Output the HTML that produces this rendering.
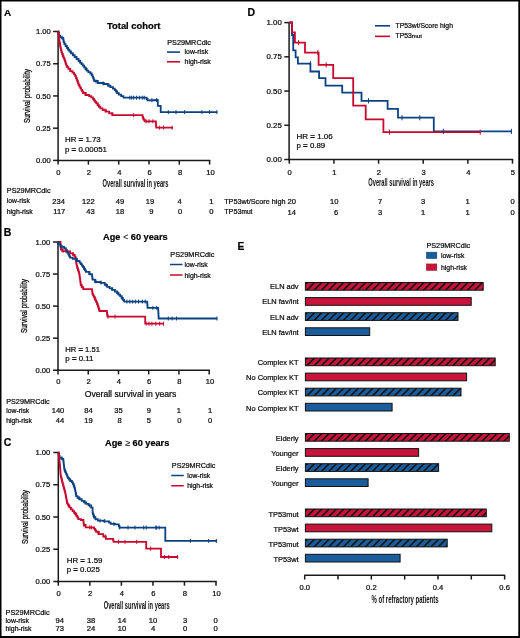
<!DOCTYPE html>
<html><head><meta charset="utf-8"><title>Figure</title>
<style>html,body{margin:0;padding:0;background:#fff;width:520px;height:638px;overflow:hidden} text{font-family:"Liberation Sans", sans-serif}</style>
</head><body>
<div style="width:520px;height:638px">
<svg width="520" height="638" viewBox="0 0 520 638" style="display:block">
<g font-family='"Liberation Sans", sans-serif'>
<line x1="58.1" y1="31.3" x2="58.1" y2="161.15" stroke="#1a1a1a" stroke-width="1.5"/>
<line x1="57.35" y1="160.4" x2="210.35" y2="160.4" stroke="#1a1a1a" stroke-width="1.5"/>
<line x1="53.1" y1="31.5" x2="58.1" y2="31.5" stroke="#1a1a1a" stroke-width="1.5"/>
<line x1="53.1" y1="63.73" x2="58.1" y2="63.73" stroke="#1a1a1a" stroke-width="1.5"/>
<line x1="53.1" y1="95.95" x2="58.1" y2="95.95" stroke="#1a1a1a" stroke-width="1.5"/>
<line x1="53.1" y1="128.18" x2="58.1" y2="128.18" stroke="#1a1a1a" stroke-width="1.5"/>
<line x1="53.1" y1="160.4" x2="58.1" y2="160.4" stroke="#1a1a1a" stroke-width="1.5"/>
<line x1="58.1" y1="160.4" x2="58.1" y2="164.6" stroke="#1a1a1a" stroke-width="1.5"/>
<line x1="88.4" y1="160.4" x2="88.4" y2="164.6" stroke="#1a1a1a" stroke-width="1.5"/>
<line x1="118.7" y1="160.4" x2="118.7" y2="164.6" stroke="#1a1a1a" stroke-width="1.5"/>
<line x1="149" y1="160.4" x2="149" y2="164.6" stroke="#1a1a1a" stroke-width="1.5"/>
<line x1="179.3" y1="160.4" x2="179.3" y2="164.6" stroke="#1a1a1a" stroke-width="1.5"/>
<line x1="209.6" y1="160.4" x2="209.6" y2="164.6" stroke="#1a1a1a" stroke-width="1.5"/>
<line x1="167" y1="52.1" x2="180" y2="52.1" stroke="#0b4283" stroke-width="1.6"/>
<line x1="167" y1="61.8" x2="180" y2="61.8" stroke="#c8082c" stroke-width="1.6"/>
<polyline points="58.35,31.5 58.54,31.5 58.54,32.93 58.92,32.93 58.92,34.37 59.31,34.37 59.31,35.8 59.5,35.8 60.1,35.8 60.1,37.4 60.7,37.4 61.9,37.4 61.9,37.8 63.1,37.8 63.22,37.8 63.22,39.23 63.45,39.23 63.45,40.67 63.68,40.67 63.68,42.1 63.8,42.1 64.4,42.1 64.4,44.05 65.6,44.05 65.6,46 66.2,46 66.85,46 66.85,47.83 68.15,47.83 68.15,49.67 69.45,49.67 69.45,51.5 70.1,51.5 71.02,51.5 71.02,53.33 72.85,53.33 72.85,55.17 74.68,55.17 74.68,57 75.6,57 76.57,57 76.57,59 78.53,59 78.53,61 79.5,61 80.17,61 80.17,62.53 81.5,62.53 81.5,64.07 82.83,64.07 82.83,65.6 83.5,65.6 84.15,65.6 84.15,67.3 85.45,67.3 85.45,69 86.75,69 86.75,70.7 87.4,70.7 88.38,70.7 88.38,72.1 90.33,72.1 90.33,73.5 91.3,73.5 91.7,73.5 91.7,75.05 92.5,75.05 92.5,76.6 92.9,76.6 93.17,76.6 93.17,78.07 93.7,78.07 93.7,79.53 94.23,79.53 94.23,81 94.5,81 97.75,81 97.75,83 101,83 103.8,83 103.8,84 106.6,84 107.87,84 107.87,85.53 110.4,85.53 110.4,87.07 112.93,87.07 112.93,88.6 114.2,88.6 114.78,88.6 114.78,90.1 115.95,90.1 115.95,91.6 117.12,91.6 117.12,93.1 117.7,93.1 118.85,93.1 118.85,94.63 121.15,94.63 121.15,96.17 123.45,96.17 123.45,97.7 124.6,97.7 146.2,97.7 146.65,97.7 146.65,99 147.55,99 147.55,100.3 148,100.3 157.8,100 157.8,105.8 160.7,105.8 160.7,112.1 217.3,112.1" fill="none" stroke="#0b4283" stroke-width="1.8" stroke-linejoin="miter"/>
<polyline points="58.35,31.5 58.43,31.5 58.43,33 58.58,33 58.58,34.5 58.73,34.5 58.73,36 58.88,36 58.88,37.5 59.02,37.5 59.02,39 59.1,39 59.23,39 59.23,40.57 59.5,40.57 59.5,42.13 59.77,42.13 59.77,43.7 59.9,43.7 60.03,43.7 60.03,45.27 60.3,45.27 60.3,46.83 60.57,46.83 60.57,48.4 60.7,48.4 60.97,48.4 60.97,50.23 61.5,50.23 61.5,52.07 62.03,52.07 62.03,53.9 62.3,53.9 62.68,53.9 62.68,55.73 63.45,55.73 63.45,57.57 64.22,57.57 64.22,59.4 64.6,59.4 64.85,59.4 64.85,60.95 65.35,60.95 65.35,62.5 65.85,62.5 65.85,64.05 66.35,64.05 66.35,65.6 66.6,65.6 67.17,65.6 67.17,67.2 68.33,67.2 68.33,68.8 68.9,68.8 70.3,68.8 70.3,71.1 71.7,71.1 72.47,71.1 72.47,72.7 74.03,72.7 74.03,74.3 74.8,74.3 75.2,74.3 75.2,76.15 76,76.15 76,78 76.4,78 76.73,78 76.73,79.75 77.38,79.75 77.38,81.5 78.03,81.5 78.03,83.25 78.67,83.25 78.67,85 79,85 79.45,85 79.45,86.6 80.35,86.6 80.35,88.2 81.25,88.2 81.25,89.8 82.15,89.8 82.15,91.4 83.05,91.4 83.05,93 83.5,93 85.75,93 85.75,95 88,95 89.08,95 89.08,96.2 91.22,96.2 91.22,97.4 92.3,97.4 92.85,97.4 92.85,98.87 93.95,98.87 93.95,100.33 95.05,100.33 95.05,101.8 95.6,101.8 96.27,101.8 96.27,103.45 97.62,103.45 97.62,105.1 98.97,105.1 98.97,106.75 100.33,106.75 100.33,108.4 101,108.4 102.65,108.4 102.65,110.05 105.95,110.05 105.95,111.7 107.6,111.7 109.25,111.7 109.25,113.45 112.55,113.45 112.55,115.2 114.2,115.2 142.3,115.2 142.55,115.2 142.55,116.85 143.05,116.85 143.05,118.5 143.3,118.5 143.78,118.5 143.78,119.9 144.72,119.9 144.72,121.3 145.2,121.3 155.8,121.3 155.86,121.3 155.86,122.9 155.99,122.9 155.99,124.5 156.11,124.5 156.11,126.1 156.24,126.1 156.24,127.7 156.3,127.7 173,127.7" fill="none" stroke="#c8082c" stroke-width="1.8" stroke-linejoin="miter"/>
<line x1="62" y1="35.62" x2="62" y2="39.62" stroke="#0b4283" stroke-width="1.0"/>
<line x1="68" y1="46.54" x2="68" y2="50.54" stroke="#0b4283" stroke-width="1.0"/>
<line x1="73" y1="52.4" x2="73" y2="56.4" stroke="#0b4283" stroke-width="1.0"/>
<line x1="80" y1="59.58" x2="80" y2="63.58" stroke="#0b4283" stroke-width="1.0"/>
<line x1="86" y1="66.87" x2="86" y2="70.87" stroke="#0b4283" stroke-width="1.0"/>
<line x1="96" y1="79.46" x2="96" y2="83.46" stroke="#0b4283" stroke-width="1.0"/>
<line x1="103" y1="81.36" x2="103" y2="85.36" stroke="#0b4283" stroke-width="1.0"/>
<line x1="109" y1="83.45" x2="109" y2="87.45" stroke="#0b4283" stroke-width="1.0"/>
<line x1="117" y1="90.2" x2="117" y2="94.2" stroke="#0b4283" stroke-width="1.0"/>
<line x1="129.8" y1="95.7" x2="129.8" y2="99.7" stroke="#0b4283" stroke-width="1.0"/>
<line x1="131.7" y1="95.7" x2="131.7" y2="99.7" stroke="#0b4283" stroke-width="1.0"/>
<line x1="133.7" y1="95.7" x2="133.7" y2="99.7" stroke="#0b4283" stroke-width="1.0"/>
<line x1="136.5" y1="95.7" x2="136.5" y2="99.7" stroke="#0b4283" stroke-width="1.0"/>
<line x1="139.4" y1="95.7" x2="139.4" y2="99.7" stroke="#0b4283" stroke-width="1.0"/>
<line x1="142.3" y1="95.7" x2="142.3" y2="99.7" stroke="#0b4283" stroke-width="1.0"/>
<line x1="144.2" y1="95.7" x2="144.2" y2="99.7" stroke="#0b4283" stroke-width="1.0"/>
<line x1="151.9" y1="98.18" x2="151.9" y2="102.18" stroke="#0b4283" stroke-width="1.0"/>
<line x1="156.7" y1="98.03" x2="156.7" y2="102.03" stroke="#0b4283" stroke-width="1.0"/>
<line x1="168.3" y1="110.1" x2="168.3" y2="114.1" stroke="#0b4283" stroke-width="1.0"/>
<line x1="176" y1="110.1" x2="176" y2="114.1" stroke="#0b4283" stroke-width="1.0"/>
<line x1="184.6" y1="110.1" x2="184.6" y2="114.1" stroke="#0b4283" stroke-width="1.0"/>
<line x1="201.9" y1="110.1" x2="201.9" y2="114.1" stroke="#0b4283" stroke-width="1.0"/>
<line x1="209.6" y1="110.1" x2="209.6" y2="114.1" stroke="#0b4283" stroke-width="1.0"/>
<line x1="216.9" y1="110.1" x2="216.9" y2="114.1" stroke="#0b4283" stroke-width="1.0"/>
<line x1="60" y1="42.29" x2="60" y2="46.29" stroke="#c8082c" stroke-width="1.0"/>
<line x1="62.8" y1="53.1" x2="62.8" y2="57.1" stroke="#c8082c" stroke-width="1.0"/>
<line x1="65.5" y1="60.19" x2="65.5" y2="64.19" stroke="#c8082c" stroke-width="1.0"/>
<line x1="70" y1="67.7" x2="70" y2="71.7" stroke="#c8082c" stroke-width="1.0"/>
<line x1="78" y1="80.31" x2="78" y2="84.31" stroke="#c8082c" stroke-width="1.0"/>
<line x1="85" y1="91.67" x2="85" y2="95.67" stroke="#c8082c" stroke-width="1.0"/>
<line x1="98" y1="102.73" x2="98" y2="106.73" stroke="#c8082c" stroke-width="1.0"/>
<line x1="105" y1="108.4" x2="105" y2="112.4" stroke="#c8082c" stroke-width="1.0"/>
<line x1="112" y1="112.03" x2="112" y2="116.03" stroke="#c8082c" stroke-width="1.0"/>
<line x1="133.7" y1="113.2" x2="133.7" y2="117.2" stroke="#c8082c" stroke-width="1.0"/>
<line x1="146.2" y1="119.3" x2="146.2" y2="123.3" stroke="#c8082c" stroke-width="1.0"/>
<line x1="149" y1="119.3" x2="149" y2="123.3" stroke="#c8082c" stroke-width="1.0"/>
<line x1="152.9" y1="119.3" x2="152.9" y2="123.3" stroke="#c8082c" stroke-width="1.0"/>
<line x1="159.6" y1="125.7" x2="159.6" y2="129.7" stroke="#c8082c" stroke-width="1.0"/>
<line x1="163.5" y1="125.7" x2="163.5" y2="129.7" stroke="#c8082c" stroke-width="1.0"/>
<line x1="172.1" y1="125.7" x2="172.1" y2="129.7" stroke="#c8082c" stroke-width="1.0"/>
<line x1="58" y1="241.8" x2="58" y2="370.95" stroke="#1a1a1a" stroke-width="1.5"/>
<line x1="57.25" y1="370.2" x2="209.95" y2="370.2" stroke="#1a1a1a" stroke-width="1.5"/>
<line x1="53" y1="242" x2="58" y2="242" stroke="#1a1a1a" stroke-width="1.5"/>
<line x1="53" y1="274.05" x2="58" y2="274.05" stroke="#1a1a1a" stroke-width="1.5"/>
<line x1="53" y1="306.1" x2="58" y2="306.1" stroke="#1a1a1a" stroke-width="1.5"/>
<line x1="53" y1="338.15" x2="58" y2="338.15" stroke="#1a1a1a" stroke-width="1.5"/>
<line x1="53" y1="370.2" x2="58" y2="370.2" stroke="#1a1a1a" stroke-width="1.5"/>
<line x1="58" y1="370.2" x2="58" y2="374.4" stroke="#1a1a1a" stroke-width="1.5"/>
<line x1="88.24" y1="370.2" x2="88.24" y2="374.4" stroke="#1a1a1a" stroke-width="1.5"/>
<line x1="118.48" y1="370.2" x2="118.48" y2="374.4" stroke="#1a1a1a" stroke-width="1.5"/>
<line x1="148.72" y1="370.2" x2="148.72" y2="374.4" stroke="#1a1a1a" stroke-width="1.5"/>
<line x1="178.96" y1="370.2" x2="178.96" y2="374.4" stroke="#1a1a1a" stroke-width="1.5"/>
<line x1="209.2" y1="370.2" x2="209.2" y2="374.4" stroke="#1a1a1a" stroke-width="1.5"/>
<line x1="170" y1="264.5" x2="182.5" y2="264.5" stroke="#0b4283" stroke-width="1.5"/>
<line x1="170" y1="275" x2="182.5" y2="275" stroke="#c8082c" stroke-width="1.5"/>
<polyline points="57.8,242 60.5,242 60.54,242 60.54,243.5 60.62,243.5 60.62,245 60.7,245 60.7,246.5 60.78,246.5 60.78,248 60.86,248 60.86,249.5 60.9,249.5 62.2,249.5 62.2,251.2 63.5,251.2 65.8,251.2 65.8,251.3 68.1,251.3 70.15,251.3 70.15,253.3 72.2,253.3 73,253.3 73,254.9 74.6,254.9 74.6,256.5 75.4,256.5 75.5,256.5 75.5,258 75.7,258 75.7,259.5 75.9,259.5 75.9,261 76,261 76.17,261 76.17,262.8 76.5,262.8 76.5,264.6 76.83,264.6 76.83,266.4 77,266.4 77.29,266.4 77.29,268.15 77.86,268.15 77.86,269.9 78.44,269.9 78.44,271.65 79.01,271.65 79.01,273.4 79.3,273.4 79.41,273.4 79.41,275.09 79.64,275.09 79.64,276.77 79.87,276.77 79.87,278.46 80.1,278.46 80.1,280.14 80.33,280.14 80.33,281.83 80.56,281.83 80.56,283.51 80.79,283.51 80.79,285.2 80.9,285.2 81.68,285.2 81.68,287.15 83.22,287.15 83.22,289.1 84,289.1 91.9,289.1 92.02,289.1 92.02,290.67 92.25,290.67 92.25,292.23 92.48,292.23 92.48,293.8 92.6,293.8 93,293.8 93,295.37 93.8,295.37 93.8,296.93 94.6,296.93 94.6,298.5 95,298.5 95.4,298.5 95.4,300.33 96.2,300.33 96.2,302.17 97,302.17 97,304 97.4,304 97.69,304 97.69,305.75 98.26,305.75 98.26,307.5 98.84,307.5 98.84,309.25 99.41,309.25 99.41,311 99.7,311 106.8,311 106.89,311 106.89,312.4 107.06,312.4 107.06,313.8 107.24,313.8 107.24,315.2 107.41,315.2 107.41,316.6 107.5,316.6 145.2,316.6 145.2,323.7 163.5,323.7" fill="none" stroke="#c8082c" stroke-width="1.8" stroke-linejoin="miter"/>
<polyline points="57.8,242 58.22,242 58.22,243.3 59.08,243.3 59.08,244.6 59.5,244.6 60.5,244.6 60.5,246.7 61.5,246.7 62.5,246.7 62.5,246.9 63.5,246.9 64.22,246.9 64.22,248.35 65.68,248.35 65.68,249.8 66.4,249.8 66.8,249.8 66.8,251.36 67.6,251.36 67.6,252.92 68.4,252.92 68.4,254.48 69.2,254.48 69.2,256.04 70,256.04 70,257.6 70.4,257.6 72.7,257.6 72.7,258.8 75,258.8 77,258.8 77,261 79,261 79.58,261 79.58,262.53 80.75,262.53 80.75,264.07 81.92,264.07 81.92,265.6 82.5,265.6 82.99,265.6 82.99,267.18 83.96,267.18 83.96,268.75 84.94,268.75 84.94,270.32 85.91,270.32 85.91,271.9 86.4,271.9 89.15,271.9 89.15,274.2 91.9,274.2 92.02,274.2 92.02,276.03 92.25,276.03 92.25,277.87 92.48,277.87 92.48,279.7 92.6,279.7 95,279.7 95,282 97.4,282 100.5,282 100.5,282.8 103.6,282.8 104.77,282.8 104.77,284.8 107.12,284.8 107.12,286.8 108.3,286.8 109.62,286.8 109.62,288.37 112.25,288.37 112.25,289.93 114.88,289.93 114.88,291.5 116.2,291.5 116.98,291.5 116.98,293.07 118.55,293.07 118.55,294.63 120.12,294.63 120.12,296.2 120.9,296.2 121.55,296.2 121.55,298 122.85,298 122.85,299.8 124.15,299.8 124.15,301.6 124.8,301.6 147.1,301.6 147.17,301.6 147.17,303.18 147.32,303.18 147.32,304.75 147.47,304.75 147.47,306.32 147.62,306.32 147.62,307.9 147.7,307.9 158.1,307.9 158.14,307.9 158.14,309.41 158.23,309.41 158.23,310.93 158.31,310.93 158.31,312.44 158.4,312.44 158.4,313.96 158.49,313.96 158.49,315.47 158.57,315.47 158.57,316.99 158.66,316.99 158.66,318.5 158.7,318.5 217.3,318.5" fill="none" stroke="#0b4283" stroke-width="1.8" stroke-linejoin="miter"/>
<line x1="62" y1="244.75" x2="62" y2="248.75" stroke="#0b4283" stroke-width="1.0"/>
<line x1="66" y1="247.4" x2="66" y2="251.4" stroke="#0b4283" stroke-width="1.0"/>
<line x1="76" y1="257.35" x2="76" y2="261.35" stroke="#0b4283" stroke-width="1.0"/>
<line x1="84" y1="266.02" x2="84" y2="270.02" stroke="#0b4283" stroke-width="1.0"/>
<line x1="90" y1="271.41" x2="90" y2="275.41" stroke="#0b4283" stroke-width="1.0"/>
<line x1="96" y1="279.33" x2="96" y2="283.33" stroke="#0b4283" stroke-width="1.0"/>
<line x1="101" y1="280.46" x2="101" y2="284.46" stroke="#0b4283" stroke-width="1.0"/>
<line x1="106" y1="282.84" x2="106" y2="286.84" stroke="#0b4283" stroke-width="1.0"/>
<line x1="112" y1="287" x2="112" y2="291" stroke="#0b4283" stroke-width="1.0"/>
<line x1="118" y1="291.3" x2="118" y2="295.3" stroke="#0b4283" stroke-width="1.0"/>
<line x1="122" y1="295.72" x2="122" y2="299.72" stroke="#0b4283" stroke-width="1.0"/>
<line x1="126.9" y1="299.6" x2="126.9" y2="303.6" stroke="#0b4283" stroke-width="1.0"/>
<line x1="129.8" y1="299.6" x2="129.8" y2="303.6" stroke="#0b4283" stroke-width="1.0"/>
<line x1="132.7" y1="299.6" x2="132.7" y2="303.6" stroke="#0b4283" stroke-width="1.0"/>
<line x1="135.6" y1="299.6" x2="135.6" y2="303.6" stroke="#0b4283" stroke-width="1.0"/>
<line x1="138.5" y1="299.6" x2="138.5" y2="303.6" stroke="#0b4283" stroke-width="1.0"/>
<line x1="142.3" y1="299.6" x2="142.3" y2="303.6" stroke="#0b4283" stroke-width="1.0"/>
<line x1="145.2" y1="299.6" x2="145.2" y2="303.6" stroke="#0b4283" stroke-width="1.0"/>
<line x1="152.9" y1="305.9" x2="152.9" y2="309.9" stroke="#0b4283" stroke-width="1.0"/>
<line x1="156.7" y1="305.9" x2="156.7" y2="309.9" stroke="#0b4283" stroke-width="1.0"/>
<line x1="168.3" y1="316.5" x2="168.3" y2="320.5" stroke="#0b4283" stroke-width="1.0"/>
<line x1="172.1" y1="316.5" x2="172.1" y2="320.5" stroke="#0b4283" stroke-width="1.0"/>
<line x1="176.5" y1="316.5" x2="176.5" y2="320.5" stroke="#0b4283" stroke-width="1.0"/>
<line x1="216.9" y1="316.5" x2="216.9" y2="320.5" stroke="#0b4283" stroke-width="1.0"/>
<line x1="63" y1="248.87" x2="63" y2="252.87" stroke="#c8082c" stroke-width="1.0"/>
<line x1="66" y1="249.25" x2="66" y2="253.25" stroke="#c8082c" stroke-width="1.0"/>
<line x1="73" y1="252.1" x2="73" y2="256.1" stroke="#c8082c" stroke-width="1.0"/>
<line x1="78" y1="267.44" x2="78" y2="271.44" stroke="#c8082c" stroke-width="1.0"/>
<line x1="82" y1="284.58" x2="82" y2="288.58" stroke="#c8082c" stroke-width="1.0"/>
<line x1="95" y1="296.5" x2="95" y2="300.5" stroke="#c8082c" stroke-width="1.0"/>
<line x1="108" y1="314.6" x2="108" y2="318.6" stroke="#c8082c" stroke-width="1.0"/>
<line x1="115" y1="314.6" x2="115" y2="318.6" stroke="#c8082c" stroke-width="1.0"/>
<line x1="146.2" y1="321.7" x2="146.2" y2="325.7" stroke="#c8082c" stroke-width="1.0"/>
<line x1="149" y1="321.7" x2="149" y2="325.7" stroke="#c8082c" stroke-width="1.0"/>
<line x1="151.9" y1="321.7" x2="151.9" y2="325.7" stroke="#c8082c" stroke-width="1.0"/>
<line x1="155.8" y1="321.7" x2="155.8" y2="325.7" stroke="#c8082c" stroke-width="1.0"/>
<line x1="159.6" y1="321.7" x2="159.6" y2="325.7" stroke="#c8082c" stroke-width="1.0"/>
<line x1="163.5" y1="321.7" x2="163.5" y2="325.7" stroke="#c8082c" stroke-width="1.0"/>
<line x1="58.3" y1="452.3" x2="58.3" y2="582.25" stroke="#1a1a1a" stroke-width="1.5"/>
<line x1="57.55" y1="581.5" x2="216.75" y2="581.5" stroke="#1a1a1a" stroke-width="1.5"/>
<line x1="53.3" y1="452.5" x2="58.3" y2="452.5" stroke="#1a1a1a" stroke-width="1.5"/>
<line x1="53.3" y1="484.75" x2="58.3" y2="484.75" stroke="#1a1a1a" stroke-width="1.5"/>
<line x1="53.3" y1="517" x2="58.3" y2="517" stroke="#1a1a1a" stroke-width="1.5"/>
<line x1="53.3" y1="549.25" x2="58.3" y2="549.25" stroke="#1a1a1a" stroke-width="1.5"/>
<line x1="53.3" y1="581.5" x2="58.3" y2="581.5" stroke="#1a1a1a" stroke-width="1.5"/>
<line x1="58.3" y1="581.5" x2="58.3" y2="585.7" stroke="#1a1a1a" stroke-width="1.5"/>
<line x1="89.84" y1="581.5" x2="89.84" y2="585.7" stroke="#1a1a1a" stroke-width="1.5"/>
<line x1="121.38" y1="581.5" x2="121.38" y2="585.7" stroke="#1a1a1a" stroke-width="1.5"/>
<line x1="152.92" y1="581.5" x2="152.92" y2="585.7" stroke="#1a1a1a" stroke-width="1.5"/>
<line x1="184.46" y1="581.5" x2="184.46" y2="585.7" stroke="#1a1a1a" stroke-width="1.5"/>
<line x1="216" y1="581.5" x2="216" y2="585.7" stroke="#1a1a1a" stroke-width="1.5"/>
<line x1="171.25" y1="475.5" x2="183.75" y2="475.5" stroke="#0b4283" stroke-width="1.5"/>
<line x1="171.25" y1="485.75" x2="183.75" y2="485.75" stroke="#c8082c" stroke-width="1.5"/>
<polyline points="58.5,452.5 58.7,452.5 58.7,454.2 59.1,454.2 59.1,455.9 59.5,455.9 59.5,457.6 59.7,457.6 61.45,457.6 61.45,458.8 63.2,458.8 63.29,458.8 63.29,460.31 63.46,460.31 63.46,461.83 63.63,461.83 63.63,463.34 63.8,463.34 63.8,464.86 63.97,464.86 63.97,466.37 64.14,466.37 64.14,467.89 64.31,467.89 64.31,469.4 64.4,469.4 64.75,469.4 64.75,470.93 65.45,470.93 65.45,472.47 66.15,472.47 66.15,474 66.5,474 66.8,474 66.8,475.4 67.4,475.4 67.4,476.8 68,476.8 68,478.2 68.3,478.2 69.02,478.2 69.02,479.6 70.45,479.6 70.45,481 71.88,481 71.88,482.4 72.6,482.4 72.95,482.4 72.95,484.17 73.65,484.17 73.65,485.93 74.35,485.93 74.35,487.7 74.7,487.7 74.87,487.7 74.87,489.4 75.21,489.4 75.21,491.1 75.55,491.1 75.55,492.8 75.89,492.8 75.89,494.5 76.23,494.5 76.23,496.2 76.4,496.2 77.47,496.2 77.47,497.73 79.6,497.73 79.6,499.27 81.73,499.27 81.73,500.8 82.8,500.8 83.95,500.8 83.95,502.33 86.25,502.33 86.25,503.87 88.55,503.87 88.55,505.4 89.7,505.4 91.15,505.4 91.15,507.7 92.6,507.7 92.6,512.3 92.88,512.3 92.88,514.03 93.45,514.03 93.45,515.77 94.02,515.77 94.02,517.5 94.3,517.5 95.45,517.5 95.45,519.05 97.75,519.05 97.75,520.6 98.9,520.6 103.55,520.6 103.55,521.3 108.2,521.3 109.05,521.3 109.05,522.55 110.75,522.55 110.75,523.8 111.6,523.8 115.05,523.8 115.05,524.4 118.5,524.4 118.8,524.4 118.8,526 119.4,526 119.4,527.6 119.7,527.6 165.3,527.6 165.3,540.9 217.2,540.9" fill="none" stroke="#0b4283" stroke-width="1.8" stroke-linejoin="miter"/>
<polyline points="58.5,452.5 58.59,452.5 58.59,454.05 58.76,454.05 58.76,455.6 58.94,455.6 58.94,457.15 59.11,457.15 59.11,458.7 59.29,458.7 59.29,460.25 59.46,460.25 59.46,461.8 59.64,461.8 59.64,463.35 59.81,463.35 59.81,464.9 59.9,464.9 59.96,464.9 59.96,466.39 60.07,466.39 60.07,467.87 60.19,467.87 60.19,469.36 60.3,469.36 60.3,470.84 60.41,470.84 60.41,472.33 60.53,472.33 60.53,473.81 60.64,473.81 60.64,475.3 60.7,475.3 60.89,475.3 60.89,476.8 61.27,476.8 61.27,478.3 61.65,478.3 61.65,479.8 62.03,479.8 62.03,481.3 62.41,481.3 62.41,482.8 62.6,482.8 62.83,482.8 62.83,484.53 63.3,484.53 63.3,486.27 63.77,486.27 63.77,488 64.23,488 64.23,489.73 64.7,489.73 64.7,491.47 65.17,491.47 65.17,493.2 65.4,493.2 65.55,493.2 65.55,494.85 65.85,494.85 65.85,496.5 66.15,496.5 66.15,498.15 66.45,498.15 66.45,499.8 66.75,499.8 66.75,501.45 67.05,501.45 67.05,503.1 67.2,503.1 67.68,503.1 67.68,504.63 68.65,504.63 68.65,506.17 69.62,506.17 69.62,507.7 70.1,507.7 70.95,507.7 70.95,509.45 72.65,509.45 72.65,511.2 73.5,511.2 74.08,511.2 74.08,512.73 75.25,512.73 75.25,514.27 76.42,514.27 76.42,515.8 77,515.8 77.42,515.8 77.42,517.5 78.28,517.5 78.28,519.2 78.7,519.2 81,519.2 81,520 83.3,520 83.4,520 83.4,521.67 83.6,521.67 83.6,523.33 83.8,523.33 83.8,525 83.9,525 85.65,525 85.65,527.3 87.4,527.3 90.55,527.3 90.55,527.5 93.7,527.5 94.18,527.5 94.18,528.97 95.15,528.97 95.15,530.43 96.12,530.43 96.12,531.9 96.6,531.9 98.9,531.9 98.9,534.2 101.2,534.2 103.25,534.2 103.25,536.5 105.3,536.5 105.85,536.5 105.85,538.8 106.4,538.8 112.8,538.8 113.08,538.8 113.08,540.3 113.62,540.3 113.62,541.8 113.9,541.8 146.2,541.8 146.2,548.7 161,548.7 161,557 178.3,557" fill="none" stroke="#c8082c" stroke-width="1.8" stroke-linejoin="miter"/>
<line x1="62" y1="456.39" x2="62" y2="460.39" stroke="#0b4283" stroke-width="1.0"/>
<line x1="65" y1="468.71" x2="65" y2="472.71" stroke="#0b4283" stroke-width="1.0"/>
<line x1="70" y1="477.86" x2="70" y2="481.86" stroke="#0b4283" stroke-width="1.0"/>
<line x1="74" y1="483.93" x2="74" y2="487.93" stroke="#0b4283" stroke-width="1.0"/>
<line x1="79" y1="496.07" x2="79" y2="500.07" stroke="#0b4283" stroke-width="1.0"/>
<line x1="85.1" y1="500.33" x2="85.1" y2="504.33" stroke="#0b4283" stroke-width="1.0"/>
<line x1="89.7" y1="503.4" x2="89.7" y2="507.4" stroke="#0b4283" stroke-width="1.0"/>
<line x1="93.7" y1="513.66" x2="93.7" y2="517.66" stroke="#0b4283" stroke-width="1.0"/>
<line x1="95.5" y1="516.31" x2="95.5" y2="520.31" stroke="#0b4283" stroke-width="1.0"/>
<line x1="100" y1="518.68" x2="100" y2="522.68" stroke="#0b4283" stroke-width="1.0"/>
<line x1="104.7" y1="519.04" x2="104.7" y2="523.04" stroke="#0b4283" stroke-width="1.0"/>
<line x1="113.9" y1="522" x2="113.9" y2="526" stroke="#0b4283" stroke-width="1.0"/>
<line x1="119.7" y1="525.6" x2="119.7" y2="529.6" stroke="#0b4283" stroke-width="1.0"/>
<line x1="128" y1="525.6" x2="128" y2="529.6" stroke="#0b4283" stroke-width="1.0"/>
<line x1="135" y1="525.6" x2="135" y2="529.6" stroke="#0b4283" stroke-width="1.0"/>
<line x1="143.7" y1="525.6" x2="143.7" y2="529.6" stroke="#0b4283" stroke-width="1.0"/>
<line x1="146.2" y1="525.6" x2="146.2" y2="529.6" stroke="#0b4283" stroke-width="1.0"/>
<line x1="155.8" y1="525.6" x2="155.8" y2="529.6" stroke="#0b4283" stroke-width="1.0"/>
<line x1="156.6" y1="525.6" x2="156.6" y2="529.6" stroke="#0b4283" stroke-width="1.0"/>
<line x1="159.2" y1="525.6" x2="159.2" y2="529.6" stroke="#0b4283" stroke-width="1.0"/>
<line x1="190.4" y1="538.9" x2="190.4" y2="542.9" stroke="#0b4283" stroke-width="1.0"/>
<line x1="208.6" y1="538.9" x2="208.6" y2="542.9" stroke="#0b4283" stroke-width="1.0"/>
<line x1="216.3" y1="538.9" x2="216.3" y2="542.9" stroke="#0b4283" stroke-width="1.0"/>
<line x1="62" y1="478.43" x2="62" y2="482.43" stroke="#c8082c" stroke-width="1.0"/>
<line x1="68.9" y1="503.8" x2="68.9" y2="507.8" stroke="#c8082c" stroke-width="1.0"/>
<line x1="76" y1="512.49" x2="76" y2="516.49" stroke="#c8082c" stroke-width="1.0"/>
<line x1="83.9" y1="523" x2="83.9" y2="527" stroke="#c8082c" stroke-width="1.0"/>
<line x1="89.7" y1="525.37" x2="89.7" y2="529.37" stroke="#c8082c" stroke-width="1.0"/>
<line x1="91.4" y1="525.43" x2="91.4" y2="529.43" stroke="#c8082c" stroke-width="1.0"/>
<line x1="97.8" y1="530.5" x2="97.8" y2="534.5" stroke="#c8082c" stroke-width="1.0"/>
<line x1="105.3" y1="534.5" x2="105.3" y2="538.5" stroke="#c8082c" stroke-width="1.0"/>
<line x1="118.5" y1="539.8" x2="118.5" y2="543.8" stroke="#c8082c" stroke-width="1.0"/>
<line x1="125" y1="539.8" x2="125" y2="543.8" stroke="#c8082c" stroke-width="1.0"/>
<line x1="136.7" y1="539.8" x2="136.7" y2="543.8" stroke="#c8082c" stroke-width="1.0"/>
<line x1="150.6" y1="546.7" x2="150.6" y2="550.7" stroke="#c8082c" stroke-width="1.0"/>
<line x1="164.4" y1="555" x2="164.4" y2="559" stroke="#c8082c" stroke-width="1.0"/>
<line x1="168.7" y1="555" x2="168.7" y2="559" stroke="#c8082c" stroke-width="1.0"/>
<line x1="177.4" y1="555" x2="177.4" y2="559" stroke="#c8082c" stroke-width="1.0"/>
<line x1="289.1" y1="22.4" x2="289.1" y2="160.25" stroke="#1a1a1a" stroke-width="1.5"/>
<line x1="288.35" y1="159.5" x2="513.25" y2="159.5" stroke="#1a1a1a" stroke-width="1.5"/>
<line x1="284.3" y1="22.6" x2="289.1" y2="22.6" stroke="#1a1a1a" stroke-width="1.5"/>
<line x1="284.3" y1="56.83" x2="289.1" y2="56.83" stroke="#1a1a1a" stroke-width="1.5"/>
<line x1="284.3" y1="91.05" x2="289.1" y2="91.05" stroke="#1a1a1a" stroke-width="1.5"/>
<line x1="284.3" y1="125.28" x2="289.1" y2="125.28" stroke="#1a1a1a" stroke-width="1.5"/>
<line x1="284.3" y1="159.5" x2="289.1" y2="159.5" stroke="#1a1a1a" stroke-width="1.5"/>
<line x1="289.3" y1="159.5" x2="289.3" y2="163.7" stroke="#1a1a1a" stroke-width="1.5"/>
<line x1="333.94" y1="159.5" x2="333.94" y2="163.7" stroke="#1a1a1a" stroke-width="1.5"/>
<line x1="378.58" y1="159.5" x2="378.58" y2="163.7" stroke="#1a1a1a" stroke-width="1.5"/>
<line x1="423.22" y1="159.5" x2="423.22" y2="163.7" stroke="#1a1a1a" stroke-width="1.5"/>
<line x1="467.86" y1="159.5" x2="467.86" y2="163.7" stroke="#1a1a1a" stroke-width="1.5"/>
<line x1="512.5" y1="159.5" x2="512.5" y2="163.7" stroke="#1a1a1a" stroke-width="1.5"/>
<line x1="375" y1="25.8" x2="390" y2="25.8" stroke="#0b4283" stroke-width="1.6"/>
<line x1="375" y1="36.35" x2="390" y2="36.35" stroke="#c8082c" stroke-width="1.6"/>
<polyline points="289.3,22.5 292,22.5 292,35 293.2,35 293.2,50.3 295.6,50.3 295.6,57.4 297.9,57.4 297.9,63.7 310.4,63.7 310.4,71.5 319.1,71.5 319.1,78.1 325.5,78.1 325.5,85.6 342.2,85.6 342.2,92.6 361.5,92.6 361.5,100.8 387.6,100.8 387.6,108.8 398,108.8 398,117.7 433.8,117.7 433.8,131.4 512,131.4" fill="none" stroke="#0b4283" stroke-width="1.8" stroke-linejoin="miter"/>
<polyline points="289.3,22.5 292,22.5 292,32.4 294.9,32.4 294.9,42.6 305,42.6 305,52.6 318.6,52.6 318.6,64.9 333.2,64.9 333.2,78.1 353.2,78.1 353.2,105.6 365.7,105.6 365.7,119.4 383.4,119.4 383.4,132.2 481,132.2" fill="none" stroke="#c8082c" stroke-width="1.8" stroke-linejoin="miter"/>
<line x1="310.4" y1="61.1" x2="310.4" y2="66.3" stroke="#0b4283" stroke-width="1.0"/>
<line x1="368.5" y1="98.2" x2="368.5" y2="103.4" stroke="#0b4283" stroke-width="1.0"/>
<line x1="402" y1="115.1" x2="402" y2="120.3" stroke="#0b4283" stroke-width="1.0"/>
<line x1="419.8" y1="115.1" x2="419.8" y2="120.3" stroke="#0b4283" stroke-width="1.0"/>
<line x1="443.3" y1="128.8" x2="443.3" y2="134" stroke="#0b4283" stroke-width="1.0"/>
<line x1="511.4" y1="128.8" x2="511.4" y2="134" stroke="#0b4283" stroke-width="1.0"/>
<line x1="298.6" y1="40" x2="298.6" y2="45.2" stroke="#c8082c" stroke-width="1.0"/>
<line x1="317.9" y1="50" x2="317.9" y2="55.2" stroke="#c8082c" stroke-width="1.0"/>
<line x1="326.2" y1="62.3" x2="326.2" y2="67.5" stroke="#c8082c" stroke-width="1.0"/>
<line x1="389.4" y1="129.6" x2="389.4" y2="134.8" stroke="#c8082c" stroke-width="1.0"/>
<line x1="480.2" y1="129.6" x2="480.2" y2="134.8" stroke="#c8082c" stroke-width="1.0"/>
<defs><pattern id="hr" patternUnits="userSpaceOnUse" width="5.162" height="5.162" patternTransform="translate(1.7,0) rotate(45)"><rect width="5.2" height="5.2" fill="#c8143a"/><rect width="1.55" height="5.2" fill="#111"/></pattern><pattern id="hb" patternUnits="userSpaceOnUse" width="5.162" height="5.162" patternTransform="translate(1.7,0) rotate(45)"><rect width="5.2" height="5.2" fill="#1a5c9c"/><rect width="1.55" height="5.2" fill="#111"/></pattern></defs>
<rect x="426.3" y="252.1" width="10.6" height="6.6" fill="#1a5c9c" stroke="#123c66" stroke-width="0.4"/>
<rect x="426.3" y="263.9" width="10.6" height="6.6" fill="#c8143a" stroke="#7a0c20" stroke-width="0.4"/>
<g transform="translate(304.9,282)"><rect x="0.5" y="0.5" width="177.8" height="7.7" fill="url(#hr)" stroke="#111" stroke-width="1"/></g>
<g transform="translate(304.9,297.1)"><rect x="0.5" y="0.5" width="165.8" height="7.7" fill="#c8143a" stroke="#111" stroke-width="1"/></g>
<g transform="translate(304.9,312.2)"><rect x="0.5" y="0.5" width="152.6" height="7.7" fill="url(#hb)" stroke="#111" stroke-width="1"/></g>
<g transform="translate(304.9,327.3)"><rect x="0.5" y="0.5" width="64.3" height="7.7" fill="#1a5c9c" stroke="#111" stroke-width="1"/></g>
<g transform="translate(304.9,357.5)"><rect x="0.5" y="0.5" width="189.8" height="7.7" fill="url(#hr)" stroke="#111" stroke-width="1"/></g>
<g transform="translate(304.9,372.6)"><rect x="0.5" y="0.5" width="161.2" height="7.7" fill="#c8143a" stroke="#111" stroke-width="1"/></g>
<g transform="translate(304.9,387.7)"><rect x="0.5" y="0.5" width="155.6" height="7.7" fill="url(#hb)" stroke="#111" stroke-width="1"/></g>
<g transform="translate(304.9,402.8)"><rect x="0.5" y="0.5" width="86.7" height="7.7" fill="#1a5c9c" stroke="#111" stroke-width="1"/></g>
<g transform="translate(304.9,433)"><rect x="0.5" y="0.5" width="203.9" height="7.7" fill="url(#hr)" stroke="#111" stroke-width="1"/></g>
<g transform="translate(304.9,448.1)"><rect x="0.5" y="0.5" width="113.2" height="7.7" fill="#c8143a" stroke="#111" stroke-width="1"/></g>
<g transform="translate(304.9,463.2)"><rect x="0.5" y="0.5" width="133.2" height="7.7" fill="url(#hb)" stroke="#111" stroke-width="1"/></g>
<g transform="translate(304.9,478.3)"><rect x="0.5" y="0.5" width="62.7" height="7.7" fill="#1a5c9c" stroke="#111" stroke-width="1"/></g>
<g transform="translate(304.9,508.5)"><rect x="0.5" y="0.5" width="180.9" height="7.7" fill="url(#hr)" stroke="#111" stroke-width="1"/></g>
<g transform="translate(304.9,523.6)"><rect x="0.5" y="0.5" width="186.4" height="7.7" fill="#c8143a" stroke="#111" stroke-width="1"/></g>
<g transform="translate(304.9,538.7)"><rect x="0.5" y="0.5" width="141.8" height="7.7" fill="url(#hb)" stroke="#111" stroke-width="1"/></g>
<g transform="translate(304.9,553.8)"><rect x="0.5" y="0.5" width="94.7" height="7.7" fill="#1a5c9c" stroke="#111" stroke-width="1"/></g>
<line x1="304.2" y1="575.15" x2="505.12" y2="575.15" stroke="#1a1a1a" stroke-width="1.5"/>
<line x1="304.7" y1="575.15" x2="304.7" y2="579.55" stroke="#1a1a1a" stroke-width="1.5"/>
<line x1="338.02" y1="575.15" x2="338.02" y2="579.55" stroke="#1a1a1a" stroke-width="1.5"/>
<line x1="371.34" y1="575.15" x2="371.34" y2="579.55" stroke="#1a1a1a" stroke-width="1.5"/>
<line x1="404.66" y1="575.15" x2="404.66" y2="579.55" stroke="#1a1a1a" stroke-width="1.5"/>
<line x1="437.98" y1="575.15" x2="437.98" y2="579.55" stroke="#1a1a1a" stroke-width="1.5"/>
<line x1="471.3" y1="575.15" x2="471.3" y2="579.55" stroke="#1a1a1a" stroke-width="1.5"/>
<line x1="504.62" y1="575.15" x2="504.62" y2="579.55" stroke="#1a1a1a" stroke-width="1.5"/>
<rect x="0" y="0" width="520" height="1.5" fill="#000"/>
<rect x="518.3" y="0" width="1.7" height="638" fill="#000"/>
<rect x="0" y="636" width="520" height="2" fill="#000"/>
<rect x="0" y="0" width="1.5" height="638" fill="#000"/>
<g style="filter:grayscale(1)" stroke="#000" stroke-width="0.22">
<text x="4.1" y="16.1" font-size="9.9" text-anchor="start" font-weight="bold" fill="#000" >A</text>
<text x="107" y="29.1" font-size="9.4" text-anchor="start" font-weight="bold" fill="#000" >Total cohort</text>
<text x="50.8" y="34.1" font-size="7.6" text-anchor="end" font-weight="normal" fill="#111" >1.00</text>
<text x="50.8" y="66.33" font-size="7.6" text-anchor="end" font-weight="normal" fill="#111" >0.75</text>
<text x="50.8" y="98.55" font-size="7.6" text-anchor="end" font-weight="normal" fill="#111" >0.50</text>
<text x="50.8" y="130.78" font-size="7.6" text-anchor="end" font-weight="normal" fill="#111" >0.25</text>
<text x="50.8" y="163" font-size="7.6" text-anchor="end" font-weight="normal" fill="#111" >0.00</text>
<text x="58.3" y="175.2" font-size="7.6" text-anchor="middle" font-weight="normal" fill="#111" >0</text>
<text x="88.8" y="175.2" font-size="7.6" text-anchor="middle" font-weight="normal" fill="#111" >2</text>
<text x="119.4" y="175.2" font-size="7.6" text-anchor="middle" font-weight="normal" fill="#111" >4</text>
<text x="149.6" y="175.2" font-size="7.6" text-anchor="middle" font-weight="normal" fill="#111" >6</text>
<text x="180.1" y="175.2" font-size="7.6" text-anchor="middle" font-weight="normal" fill="#111" >8</text>
<text x="210.6" y="175.2" font-size="7.6" text-anchor="middle" font-weight="normal" fill="#111" >10</text>
<text transform="translate(30.2,96) rotate(-90)" font-size="9.2" text-anchor="middle" textLength="54" lengthAdjust="spacingAndGlyphs" fill="#111" stroke-width="0.3">Survival probability</text>
<text x="167.2" y="44.9" font-size="7.3" text-anchor="start" font-weight="normal" fill="#111" >PS29MRCdic</text>
<text x="184.5" y="54.3" font-size="6.97" text-anchor="start" font-weight="normal" fill="#111" >low-risk</text>
<text x="184.5" y="64" font-size="6.97" text-anchor="start" font-weight="normal" fill="#111" >high-risk</text>
<text x="65" y="142.3" font-size="7.9" text-anchor="start" font-weight="normal" fill="#111" >HR <tspan font-weight="bold">=</tspan> 1.73</text>
<text x="65" y="151.6" font-size="7.9" text-anchor="start" font-weight="normal" fill="#111" >p <tspan font-weight="bold">=</tspan> 0.00051</text>
<text x="102.5" y="186.9" font-size="10.2" font-weight="bold" textLength="66" lengthAdjust="spacingAndGlyphs" fill="#111" stroke-width="0">Overall survival in years</text>
<text x="6.8" y="192.7" font-size="7.3" text-anchor="start" font-weight="normal" fill="#111" >PS29MRCdic</text>
<text x="6.8" y="203.4" font-size="6.8" text-anchor="start" font-weight="normal" fill="#111" >low-risk</text>
<text x="6.8" y="214.1" font-size="6.85" text-anchor="start" font-weight="normal" fill="#111" >high-risk</text>
<text x="58.6" y="203.7" font-size="7.6" text-anchor="middle" font-weight="normal" fill="#111" >234</text>
<text x="88.3" y="203.7" font-size="7.6" text-anchor="middle" font-weight="normal" fill="#111" >122</text>
<text x="120" y="203.7" font-size="7.6" text-anchor="middle" font-weight="normal" fill="#111" >49</text>
<text x="150" y="203.7" font-size="7.6" text-anchor="middle" font-weight="normal" fill="#111" >19</text>
<text x="179.5" y="203.7" font-size="7.6" text-anchor="middle" font-weight="normal" fill="#111" >4</text>
<text x="211.3" y="203.7" font-size="7.6" text-anchor="middle" font-weight="normal" fill="#111" >1</text>
<text x="59.3" y="213.9" font-size="7.6" text-anchor="middle" font-weight="normal" fill="#111" >117</text>
<text x="90.6" y="213.9" font-size="7.6" text-anchor="middle" font-weight="normal" fill="#111" >43</text>
<text x="120" y="213.9" font-size="7.6" text-anchor="middle" font-weight="normal" fill="#111" >18</text>
<text x="151.3" y="213.9" font-size="7.6" text-anchor="middle" font-weight="normal" fill="#111" >9</text>
<text x="180" y="213.9" font-size="7.6" text-anchor="middle" font-weight="normal" fill="#111" >0</text>
<text x="211.3" y="213.9" font-size="7.6" text-anchor="middle" font-weight="normal" fill="#111" >0</text>
<text x="3.8" y="235.5" font-size="10.5" text-anchor="start" font-weight="bold" fill="#000" >B</text>
<text x="103" y="239.6" font-size="9.2" font-weight="bold" fill="#000">Age <tspan font-weight="normal" stroke-width="0">&lt;</tspan> 60 years</text>
<text x="50.3" y="244.6" font-size="7.6" text-anchor="end" font-weight="normal" fill="#111" >1.00</text>
<text x="50.3" y="276.65" font-size="7.6" text-anchor="end" font-weight="normal" fill="#111" >0.75</text>
<text x="50.3" y="308.7" font-size="7.6" text-anchor="end" font-weight="normal" fill="#111" >0.50</text>
<text x="50.3" y="340.75" font-size="7.6" text-anchor="end" font-weight="normal" fill="#111" >0.25</text>
<text x="50.3" y="372.8" font-size="7.6" text-anchor="end" font-weight="normal" fill="#111" >0.00</text>
<text x="58.4" y="384.2" font-size="7.6" text-anchor="middle" font-weight="normal" fill="#111" >0</text>
<text x="88.64" y="384.2" font-size="7.6" text-anchor="middle" font-weight="normal" fill="#111" >2</text>
<text x="118.88" y="384.2" font-size="7.6" text-anchor="middle" font-weight="normal" fill="#111" >4</text>
<text x="149.12" y="384.2" font-size="7.6" text-anchor="middle" font-weight="normal" fill="#111" >6</text>
<text x="179.46" y="384.2" font-size="7.6" text-anchor="middle" font-weight="normal" fill="#111" >8</text>
<text x="210" y="384.2" font-size="7.6" text-anchor="middle" font-weight="normal" fill="#111" >10</text>
<text transform="translate(27.3,306) rotate(-90)" font-size="9.2" text-anchor="middle" textLength="54" lengthAdjust="spacingAndGlyphs" fill="#111" stroke-width="0.3">Survival probability</text>
<text x="170.3" y="257.2" font-size="7.35" text-anchor="start" font-weight="normal" fill="#111" >PS29MRCdic</text>
<text x="184.5" y="267.1" font-size="6.85" text-anchor="start" font-weight="normal" fill="#111" >low-risk</text>
<text x="184.5" y="277.6" font-size="6.95" text-anchor="start" font-weight="normal" fill="#111" >high-risk</text>
<text x="65.3" y="351.7" font-size="7.65" text-anchor="start" font-weight="normal" fill="#111" >HR <tspan font-weight="bold">=</tspan> 1.51</text>
<text x="65.3" y="360.8" font-size="7.9" text-anchor="start" font-weight="normal" fill="#111" >p <tspan font-weight="bold">=</tspan> 0.11</text>
<text x="84.7" y="396.8" font-size="8.63" text-anchor="start" font-weight="normal" fill="#111" >Overall survival in years</text>
<text x="6.2" y="404" font-size="7.26" text-anchor="start" font-weight="normal" fill="#111" >PS29MRCdic</text>
<text x="6.2" y="413.2" font-size="6.8" text-anchor="start" font-weight="normal" fill="#111" >low-risk</text>
<text x="6.2" y="423.4" font-size="6.8" text-anchor="start" font-weight="normal" fill="#111" >high-risk</text>
<text x="58" y="412.7" font-size="7.6" text-anchor="middle" font-weight="normal" fill="#111" >140</text>
<text x="88.5" y="412.7" font-size="7.6" text-anchor="middle" font-weight="normal" fill="#111" >84</text>
<text x="118.6" y="412.7" font-size="7.6" text-anchor="middle" font-weight="normal" fill="#111" >35</text>
<text x="148.75" y="412.7" font-size="7.6" text-anchor="middle" font-weight="normal" fill="#111" >9</text>
<text x="178.75" y="412.7" font-size="7.6" text-anchor="middle" font-weight="normal" fill="#111" >1</text>
<text x="210" y="412.7" font-size="7.6" text-anchor="middle" font-weight="normal" fill="#111" >1</text>
<text x="59.9" y="423.4" font-size="7.6" text-anchor="middle" font-weight="normal" fill="#111" >44</text>
<text x="88.5" y="423.4" font-size="7.6" text-anchor="middle" font-weight="normal" fill="#111" >19</text>
<text x="119.5" y="423.4" font-size="7.6" text-anchor="middle" font-weight="normal" fill="#111" >8</text>
<text x="148.75" y="423.4" font-size="7.6" text-anchor="middle" font-weight="normal" fill="#111" >5</text>
<text x="179.25" y="423.4" font-size="7.6" text-anchor="middle" font-weight="normal" fill="#111" >0</text>
<text x="210" y="423.4" font-size="7.6" text-anchor="middle" font-weight="normal" fill="#111" >0</text>
<text x="3.8" y="445.9" font-size="10.5" text-anchor="start" font-weight="bold" fill="#000" >C</text>
<text x="105" y="446.4" font-size="9.2" font-weight="bold" fill="#000">Age <tspan font-weight="normal" stroke-width="0">≥</tspan> 60 years</text>
<text x="50.3" y="455.1" font-size="7.6" text-anchor="end" font-weight="normal" fill="#111" >1.00</text>
<text x="50.3" y="487.35" font-size="7.6" text-anchor="end" font-weight="normal" fill="#111" >0.75</text>
<text x="50.3" y="519.6" font-size="7.6" text-anchor="end" font-weight="normal" fill="#111" >0.50</text>
<text x="50.3" y="551.85" font-size="7.6" text-anchor="end" font-weight="normal" fill="#111" >0.25</text>
<text x="50.3" y="584.1" font-size="7.6" text-anchor="end" font-weight="normal" fill="#111" >0.00</text>
<text x="58.7" y="595.7" font-size="7.6" text-anchor="middle" font-weight="normal" fill="#111" >0</text>
<text x="90.24" y="595.7" font-size="7.6" text-anchor="middle" font-weight="normal" fill="#111" >2</text>
<text x="121.78" y="595.7" font-size="7.6" text-anchor="middle" font-weight="normal" fill="#111" >4</text>
<text x="153.32" y="595.7" font-size="7.6" text-anchor="middle" font-weight="normal" fill="#111" >6</text>
<text x="184.86" y="595.7" font-size="7.6" text-anchor="middle" font-weight="normal" fill="#111" >8</text>
<text x="216.4" y="595.7" font-size="7.6" text-anchor="middle" font-weight="normal" fill="#111" >10</text>
<text transform="translate(28.4,517) rotate(-90)" font-size="9.2" text-anchor="middle" textLength="54" lengthAdjust="spacingAndGlyphs" fill="#111" stroke-width="0.3">Survival probability</text>
<text x="171.8" y="467.7" font-size="7.28" text-anchor="start" font-weight="normal" fill="#111" >PS29MRCdic</text>
<text x="187.3" y="478.1" font-size="6.78" text-anchor="start" font-weight="normal" fill="#111" >low-risk</text>
<text x="187.3" y="488.3" font-size="6.8" text-anchor="start" font-weight="normal" fill="#111" >high-risk</text>
<text x="66.7" y="562.9" font-size="7.9" text-anchor="start" font-weight="normal" fill="#111" >HR <tspan font-weight="bold">=</tspan> 1.59</text>
<text x="66.7" y="572.1" font-size="7.9" text-anchor="start" font-weight="normal" fill="#111" >p <tspan font-weight="bold">=</tspan> 0.025</text>
<text x="103.7" y="609.1" font-size="10.2" font-weight="bold" textLength="66" lengthAdjust="spacingAndGlyphs" fill="#111" stroke-width="0">Overall survival in years</text>
<text x="5.5" y="615.3" font-size="7.37" text-anchor="start" font-weight="normal" fill="#111" >PS29MRCdic</text>
<text x="5.5" y="623.4" font-size="6.95" text-anchor="start" font-weight="normal" fill="#111" >low-risk</text>
<text x="5.5" y="631.3" font-size="6.85" text-anchor="start" font-weight="normal" fill="#111" >high-risk</text>
<text x="59.7" y="622.7" font-size="7.6" text-anchor="middle" font-weight="normal" fill="#111" >94</text>
<text x="91.1" y="622.7" font-size="7.6" text-anchor="middle" font-weight="normal" fill="#111" >38</text>
<text x="122" y="622.7" font-size="7.6" text-anchor="middle" font-weight="normal" fill="#111" >14</text>
<text x="153" y="622.7" font-size="7.6" text-anchor="middle" font-weight="normal" fill="#111" >10</text>
<text x="185" y="622.7" font-size="7.6" text-anchor="middle" font-weight="normal" fill="#111" >3</text>
<text x="215.5" y="622.7" font-size="7.6" text-anchor="middle" font-weight="normal" fill="#111" >0</text>
<text x="59.7" y="631" font-size="7.6" text-anchor="middle" font-weight="normal" fill="#111" >73</text>
<text x="91.1" y="631" font-size="7.6" text-anchor="middle" font-weight="normal" fill="#111" >24</text>
<text x="122" y="631" font-size="7.6" text-anchor="middle" font-weight="normal" fill="#111" >10</text>
<text x="153" y="631" font-size="7.6" text-anchor="middle" font-weight="normal" fill="#111" >4</text>
<text x="185" y="631" font-size="7.6" text-anchor="middle" font-weight="normal" fill="#111" >0</text>
<text x="215.5" y="631" font-size="7.6" text-anchor="middle" font-weight="normal" fill="#111" >0</text>
<text x="247.6" y="16.2" font-size="10.5" text-anchor="start" font-weight="bold" fill="#000" >D</text>
<text x="281.8" y="25.2" font-size="7.9" text-anchor="end" font-weight="normal" fill="#111" >1.00</text>
<text x="281.8" y="59.43" font-size="7.9" text-anchor="end" font-weight="normal" fill="#111" >0.75</text>
<text x="281.8" y="93.65" font-size="7.9" text-anchor="end" font-weight="normal" fill="#111" >0.50</text>
<text x="281.8" y="127.88" font-size="7.9" text-anchor="end" font-weight="normal" fill="#111" >0.25</text>
<text x="281.8" y="162.1" font-size="7.9" text-anchor="end" font-weight="normal" fill="#111" >0.00</text>
<text x="289.7" y="175.2" font-size="7.6" text-anchor="middle" font-weight="normal" fill="#111" >0</text>
<text x="334.34" y="175.2" font-size="7.6" text-anchor="middle" font-weight="normal" fill="#111" >1</text>
<text x="378.98" y="175.2" font-size="7.6" text-anchor="middle" font-weight="normal" fill="#111" >2</text>
<text x="423.62" y="175.2" font-size="7.6" text-anchor="middle" font-weight="normal" fill="#111" >3</text>
<text x="468.26" y="175.2" font-size="7.6" text-anchor="middle" font-weight="normal" fill="#111" >4</text>
<text x="512.9" y="175.2" font-size="7.6" text-anchor="middle" font-weight="normal" fill="#111" >5</text>
<text x="395.5" y="27.9" font-size="6.8" text-anchor="start" font-weight="normal" fill="#111" >TP53wt/Score high</text>
<text x="395.5" y="38.4" font-size="6.8" text-anchor="start" font-weight="normal" fill="#111" >TP53<tspan font-size="6.1">mut</tspan></text>
<text x="296.5" y="139.25" font-size="8.0" text-anchor="start" font-weight="normal" fill="#111" >HR <tspan font-weight="bold">=</tspan> 1.06</text>
<text x="296.5" y="148.2" font-size="7.9" text-anchor="start" font-weight="normal" fill="#111" >p <tspan font-weight="bold">=</tspan> 0.89</text>
<text x="368.3" y="186" font-size="10.2" font-weight="bold" textLength="65.7" lengthAdjust="spacingAndGlyphs" fill="#111" stroke-width="0">Overall survival in years</text>
<text x="224.2" y="203.9" font-size="7.25" text-anchor="start" font-weight="normal" fill="#111" >TP53wt/Score high</text>
<text x="224.2" y="214.4" font-size="7.25" text-anchor="start" font-weight="normal" fill="#111" >TP53<tspan font-size="6.5">mut</tspan></text>
<text x="291.7" y="204.1" font-size="7.6" text-anchor="middle" font-weight="normal" fill="#111" >20</text>
<text x="334.2" y="204.1" font-size="7.6" text-anchor="middle" font-weight="normal" fill="#111" >10</text>
<text x="380" y="204.1" font-size="7.6" text-anchor="middle" font-weight="normal" fill="#111" >7</text>
<text x="423.2" y="204.1" font-size="7.6" text-anchor="middle" font-weight="normal" fill="#111" >3</text>
<text x="467.7" y="204.1" font-size="7.6" text-anchor="middle" font-weight="normal" fill="#111" >1</text>
<text x="512.7" y="204.1" font-size="7.6" text-anchor="middle" font-weight="normal" fill="#111" >0</text>
<text x="291.7" y="214.7" font-size="7.6" text-anchor="middle" font-weight="normal" fill="#111" >14</text>
<text x="336" y="214.7" font-size="7.6" text-anchor="middle" font-weight="normal" fill="#111" >6</text>
<text x="380" y="214.7" font-size="7.6" text-anchor="middle" font-weight="normal" fill="#111" >3</text>
<text x="423.2" y="214.7" font-size="7.6" text-anchor="middle" font-weight="normal" fill="#111" >1</text>
<text x="467.7" y="214.7" font-size="7.6" text-anchor="middle" font-weight="normal" fill="#111" >1</text>
<text x="512.7" y="214.7" font-size="7.6" text-anchor="middle" font-weight="normal" fill="#111" >0</text>
<text x="237.4" y="249.9" font-size="10.2" text-anchor="start" font-weight="bold" fill="#000" >E</text>
<text x="426.4" y="247.6" font-size="7.3" text-anchor="start" font-weight="normal" fill="#111" >PS29MRCdic</text>
<text x="441" y="258" font-size="6.9" text-anchor="start" font-weight="normal" fill="#111" >low-risk</text>
<text x="441" y="269.5" font-size="6.9" text-anchor="start" font-weight="normal" fill="#111" >high-risk</text>
<text x="298.6" y="289.2" font-size="7.45" text-anchor="end" font-weight="normal" fill="#111" >ELN adv</text>
<text x="298.6" y="304.37" font-size="7.45" text-anchor="end" font-weight="normal" fill="#111" >ELN fav/int</text>
<text x="298.6" y="319.54" font-size="7.45" text-anchor="end" font-weight="normal" fill="#111" >ELN adv</text>
<text x="298.6" y="334.71" font-size="7.45" text-anchor="end" font-weight="normal" fill="#111" >ELN fav/int</text>
<text x="298.6" y="365.05" font-size="7.45" text-anchor="end" font-weight="normal" fill="#111" >Complex KT</text>
<text x="298.6" y="380.22" font-size="7.45" text-anchor="end" font-weight="normal" fill="#111" >No Complex KT</text>
<text x="298.6" y="395.39" font-size="7.45" text-anchor="end" font-weight="normal" fill="#111" >Complex KT</text>
<text x="298.6" y="410.56" font-size="7.45" text-anchor="end" font-weight="normal" fill="#111" >No Complex KT</text>
<text x="298.6" y="440.9" font-size="7.45" text-anchor="end" font-weight="normal" fill="#111" >Elderly</text>
<text x="298.6" y="456.07" font-size="7.45" text-anchor="end" font-weight="normal" fill="#111" >Younger</text>
<text x="298.6" y="471.24" font-size="7.45" text-anchor="end" font-weight="normal" fill="#111" >Elderly</text>
<text x="298.6" y="486.41" font-size="7.45" text-anchor="end" font-weight="normal" fill="#111" >Younger</text>
<text x="298.6" y="516.75" font-size="7.45" text-anchor="end" font-weight="normal" fill="#111" >TP53mut</text>
<text x="298.6" y="531.92" font-size="7.45" text-anchor="end" font-weight="normal" fill="#111" >TP53wt</text>
<text x="298.6" y="547.09" font-size="7.45" text-anchor="end" font-weight="normal" fill="#111" >TP53mut</text>
<text x="298.6" y="562.26" font-size="7.45" text-anchor="end" font-weight="normal" fill="#111" >TP53wt</text>
<text x="304.7" y="589.6" font-size="7.6" text-anchor="middle" font-weight="normal" fill="#111" >0.0</text>
<text x="371.34" y="589.6" font-size="7.6" text-anchor="middle" font-weight="normal" fill="#111" >0.2</text>
<text x="437.98" y="589.6" font-size="7.6" text-anchor="middle" font-weight="normal" fill="#111" >0.4</text>
<text x="504.62" y="589.6" font-size="7.6" text-anchor="middle" font-weight="normal" fill="#111" >0.6</text>
<text x="371.5" y="602.9" font-size="10.2" font-weight="bold" textLength="67" lengthAdjust="spacingAndGlyphs" fill="#111" stroke-width="0">% of refractory patients</text>
</g>
</g></svg>
</div>
</body></html>
